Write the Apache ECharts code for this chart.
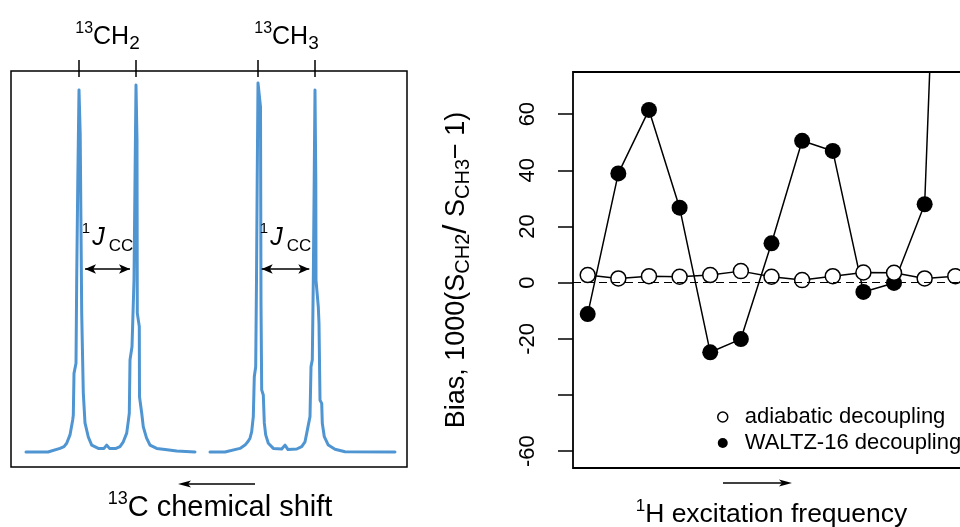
<!DOCTYPE html>
<html>
<head>
<meta charset="utf-8">
<script src="https://cdn.jsdelivr.net/npm/echarts@6/dist/echarts.min.js"></script>
<style>
  html, body { margin: 0; padding: 0; background: #fff; }
  #chart { width: 960px; height: 527px; }
</style>
</head>
<body>
<div id="chart"></div>
<script>
// ---- 13C spectrum: [shift (arbitrary units), intensity] ----
const ch2Spectrum = [
  [15, 0], [37, 0], [39, 0.6], [49, 1.2], [53, 1.8], [55.7, 2.9], [59, 5.7], [61.7, 10.7],
  [62.3, 12.3], [63, 26.2], [65, 29.6], [65.7, 57.3], [66.8, 90.7], [68, 120.7], [69.2, 106],
  [70.7, 46.3], [72.3, 19.7], [74, 9.7], [77.3, 5], [80.7, 2.3], [87.3, 1.2], [93, 1.2],
  [95.7, 2.3], [98.5, 1.2], [105, 1.2], [109, 1.8], [112.3, 3.4], [115.7, 6.3], [117.3, 10.3],
  [118.3, 12.9], [119, 30.7], [121, 35.1], [123, 57.3], [124, 90.7], [125, 122.3], [126, 104],
  [126.3, 46.3], [128.3, 41.8], [128.5, 18.4], [130.7, 13], [132.3, 8.4], [135.5, 4.7],
  [139, 2.3], [145.7, 1.2], [154, 0.8], [165.7, 0.3], [184, 0]
];
const ch3Spectrum = [
  [199, 0], [214, 0], [216, 0.6], [229, 1.2], [234, 2.3], [237, 3.5], [239, 4.6], [240.7, 6.8],
  [242.3, 11.8], [243.3, 25.1], [244.7, 28.4], [245.5, 57.3], [246.2, 90.7], [247, 123],
  [249.5, 115], [250, 49.7], [250.7, 20.7], [252.3, 19], [253.3, 9.7], [254.7, 5.7],
  [257.3, 2.9], [262.3, 1.2], [270.7, 1], [274, 2.3], [277, 0.8], [279, 0.7], [285.7, 1],
  [290.7, 1.8], [294, 3.4], [295.7, 6.2], [297.5, 9.3], [299, 11.8], [300, 28.4], [301.3, 30.7],
  [302.3, 57.3], [303.2, 90.7], [304, 120.7], [304.8, 90.7], [305, 57.3], [307.3, 48.4],
  [308, 42.9], [309, 17.3], [310.7, 16.2], [311.3, 9.6], [313.3, 5.1], [317.3, 2.3],
  [324, 0.9], [334, 0.1], [384, 0]
];
const peakShifts = [68, 125, 247, 304];          // doublet line positions (top ticks)
const multipletCentres = [96.5, 275.5];          // label positions of the two doublets
const multipletGroups = [['CH', '2'], ['CH', '3']];
const couplingSpans = [[74, 119], [250.7, 298.3]]; // 1J(CC) splitting arrows
const couplingLevel = 61;

// ---- Bias versus 1H excitation frequency ----
const excitationStep = [1, 2, 3, 4, 5, 6, 7, 8, 9, 10, 11, 12, 13];
const adiabaticBias = [2.7, 1.5, 2.3, 2.1, 2.7, 4.1, 2.1, 0.9, 2.3, 3.6, 3.5, 1.5, 2.3];
const waltzBias = [-11.2, 38.9, 61.5, 26.7, -24.8, -20.1, 14.0, 50.5, 46.9, -3.3, -0.1, 27.9, 315];
const biasTicks = [-60, -40, -20, 0, 20, 40, 60];
const biasTickLabels = [-60, -20, 0, 20, 40, 60];

const FONT = '"Liberation Sans", Arial, Helvetica, sans-serif';
const BLUE = '#4f95d2';

const chart = echarts.init(document.getElementById('chart'));

const pairs = (xs, ys) => xs.map((x, i) => [x, ys[i]]);

const couplingMarks = span => ({
  silent: true,
  symbol: ['arrow', 'arrow'],
  symbolSize: [7, 11],
  lineStyle: { color: '#000', width: 1.5, type: 'solid' },
  label: {
    show: true,
    position: 'middle',
    distance: 14,
    formatter: '{sup|1}{j|J}{sub|CC}',
    color: '#000',
    fontFamily: FONT,
    rich: {
      sup: { fontSize: 15, lineHeight: 15, verticalAlign: 'top', fontFamily: FONT, color: '#000', padding: [0, 2, 0, 0] },
      j: { fontSize: 25, lineHeight: 34, fontStyle: 'italic', fontFamily: FONT, color: '#000', padding: [0, 4, 0, 0] },
      sub: { fontSize: 17, lineHeight: 17, verticalAlign: 'bottom', fontFamily: FONT, color: '#000' }
    }
  },
  emphasis: { disabled: true },
  data: [[{ coord: [span[0], couplingLevel] }, { coord: [span[1], couplingLevel] }]]
});

const option = {
  animation: false,
  backgroundColor: '#fff',
  textStyle: { fontFamily: FONT, color: '#000' },
  grid: [
    { left: 11, top: 71, width: 396, height: 396, outerBoundsMode: 'none', show: true, borderColor: '#000', borderWidth: 1.5, backgroundColor: 'transparent' },
    { left: 573, top: 72, width: 397, height: 396, outerBoundsMode: 'none', show: true, borderColor: '#000', borderWidth: 1.8, backgroundColor: 'transparent' }
  ],
  xAxis: [
    {
      gridIndex: 0, type: 'value', min: 0, max: 396,
      axisLine: { show: false }, axisTick: { show: false }, axisLabel: { show: false }, splitLine: { show: false },
      name: '{sup|13}{n|C chemical shift}',
      nameLocation: 'middle',
      nameGap: 23,
      nameTextStyle: {
        padding: [0, 0, 0, 22],
        rich: {
          sup: { fontSize: 18, lineHeight: 18, verticalAlign: 'top', fontFamily: FONT, color: '#000' },
          n: { fontSize: 29, lineHeight: 36, fontFamily: FONT, color: '#000' }
        }
      }
    },
    {
      gridIndex: 0, type: 'value', min: 0, max: 396, position: 'top', offset: -6,
      axisLine: { show: false },
      splitLine: { show: false },
      axisTick: { show: true, inside: false, length: 17, customValues: peakShifts, lineStyle: { color: '#000', width: 1.5 } },
      axisLabel: {
        show: true,
        customValues: multipletCentres,
        margin: 24,
        formatter: v => {
          const g = multipletGroups[multipletCentres.indexOf(v)];
          return '{sup|13}{m|' + g[0] + '}{sub|' + g[1] + '}';
        },
        rich: {
          sup: { fontSize: 16, lineHeight: 16, verticalAlign: 'top', fontFamily: FONT, color: '#000' },
          m: { fontSize: 25, lineHeight: 32, fontFamily: FONT, color: '#000' },
          sub: { fontSize: 19, lineHeight: 19, verticalAlign: 'bottom', fontFamily: FONT, color: '#000' }
        }
      }
    },
    {
      gridIndex: 1, type: 'value', min: 0.52, max: 13.48,
      axisLine: { show: false }, axisTick: { show: false }, axisLabel: { show: false }, splitLine: { show: false },
      name: '{sup|1}{n|H excitation frequency}',
      nameLocation: 'middle',
      nameGap: 30,
      nameTextStyle: {
        rich: {
          sup: { fontSize: 17, lineHeight: 17, verticalAlign: 'top', fontFamily: FONT, color: '#000' },
          n: { fontSize: 26.5, lineHeight: 34, fontFamily: FONT, color: '#000' }
        }
      }
    }
  ],
  yAxis: [
    { gridIndex: 0, type: 'value', min: -5, max: 127, show: false },
    {
      gridIndex: 1, type: 'value', min: -66, max: 75,
      axisLine: { show: false },
      splitLine: { show: false },
      axisTick: { show: true, length: 15, customValues: biasTicks, lineStyle: { color: '#000', width: 1.5 } },
      axisLabel: { customValues: biasTickLabels, rotate: 90, margin: 34, fontSize: 22, fontFamily: FONT, color: '#000' },
      name: '{n|Bias, 1000(S}{sub|CH2}{sl|/}{n| S}{sub|CH3}{n|\u2212 1)}',
      nameLocation: 'middle',
      nameRotate: 90,
      nameGap: 100,
      nameTextStyle: {
        rich: {
          n: { fontSize: 27, lineHeight: 33, fontFamily: FONT, color: '#000' },
          sub: { fontSize: 20, lineHeight: 20, verticalAlign: 'bottom', fontFamily: FONT, color: '#000' },
          sl: { fontSize: 33, lineHeight: 33, fontFamily: FONT, color: '#000' }
        }
      }
    }
  ],
  legend: {
    orient: 'vertical',
    left: 712,
    top: 401,
    itemWidth: 10,
    itemHeight: 10,
    itemGap: 4,
    selectedMode: false,
    textStyle: { fontSize: 22, fontFamily: FONT, color: '#000', padding: [0, 0, 0, 12] },
    data: [
      { name: 'adiabatic decoupling', icon: 'circle', itemStyle: { color: '#fff', borderColor: '#000', borderWidth: 1.5 } },
      { name: 'WALTZ-16 decoupling', icon: 'circle', itemStyle: { color: '#000', borderWidth: 0 } }
    ]
  },
  series: [
    {
      name: 'CH2 doublet', type: 'line', xAxisIndex: 0, yAxisIndex: 0,
      data: ch2Spectrum, showSymbol: false, smooth: false,
      lineStyle: { color: BLUE, width: 3, join: 'round', cap: 'round' },
      markLine: couplingMarks(couplingSpans[0])
    },
    {
      name: 'CH3 doublet', type: 'line', xAxisIndex: 0, yAxisIndex: 0,
      data: ch3Spectrum, showSymbol: false, smooth: false,
      lineStyle: { color: BLUE, width: 3, join: 'round', cap: 'round' },
      markLine: couplingMarks(couplingSpans[1])
    },
    {
      name: 'WALTZ-16 decoupling', type: 'line', xAxisIndex: 2, yAxisIndex: 1,
      data: pairs(excitationStep, waltzBias),
      symbol: 'circle', symbolSize: 16, showAllSymbol: true,
      itemStyle: { color: '#000' },
      lineStyle: { color: '#000', width: 1.5 },
      markLine: {
        silent: true, symbol: ['none', 'none'],
        lineStyle: { color: '#000', width: 1.2, type: [8, 5] },
        label: { show: false },
        data: [{ yAxis: 0 }]
      }
    },
    {
      name: 'adiabatic decoupling', type: 'line', xAxisIndex: 2, yAxisIndex: 1,
      data: pairs(excitationStep, adiabaticBias),
      symbol: 'circle', symbolSize: 15, showAllSymbol: true,
      itemStyle: { color: '#fff', borderColor: '#000', borderWidth: 1.5 },
      lineStyle: { color: '#000', width: 1.5 }
    }
  ],
  graphic: [
    // direction of increasing chemical shift
    { type: 'line', shape: { x1: 186, y1: 484, x2: 255, y2: 484 }, style: { stroke: '#000', lineWidth: 1.5 } },
    { type: 'polygon', shape: { points: [[178, 484], [191, 480.5], [188, 484], [191, 487.5]] }, style: { fill: '#000' } },
    // direction of increasing excitation frequency
    { type: 'line', shape: { x1: 723, y1: 483, x2: 784, y2: 483 }, style: { stroke: '#000', lineWidth: 1.5 } },
    { type: 'polygon', shape: { points: [[792, 483], [779, 479.5], [782, 483], [779, 486.5]] }, style: { fill: '#000' } }
  ]
};

chart.setOption(option);
</script>
</body>
</html>
